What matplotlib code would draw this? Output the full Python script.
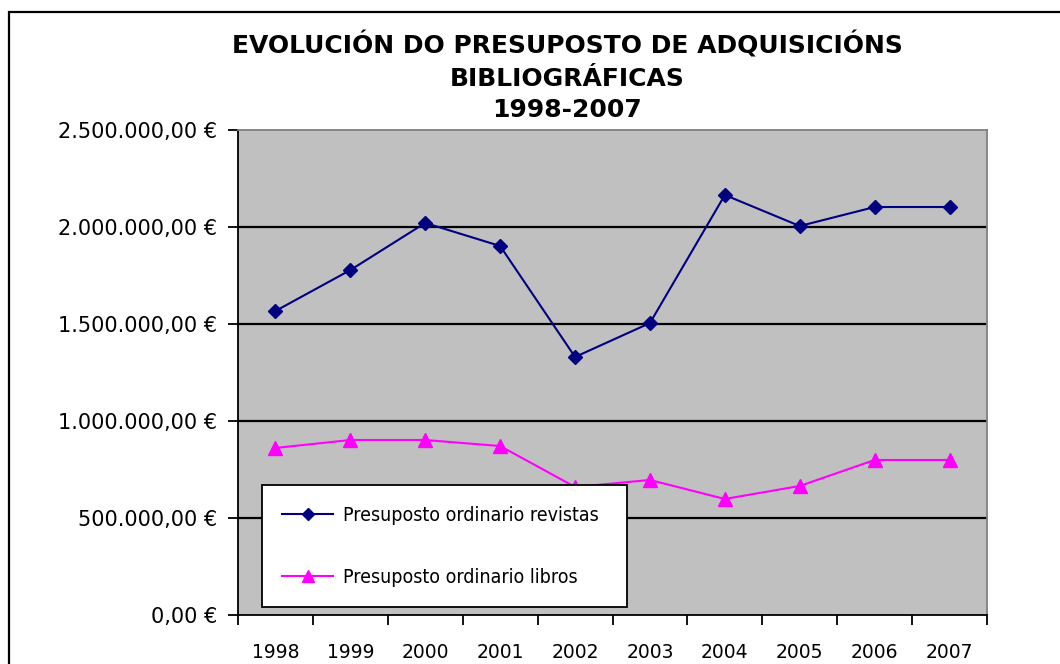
import matplotlib.pyplot as plt
from matplotlib.patches import Rectangle
from matplotlib.ticker import FuncFormatter, FixedLocator

years = ['1998', '1999', '2000', '2001', '2002', '2003', '2004', '2005', '2006', '2007']
revistas = [1567000, 1778000, 2021000, 1902000, 1330000, 1505000, 2165000, 2005000, 2103000, 2103000]
libros = [861000, 902000, 902000, 871000, 660000, 696000, 598000, 665000, 799000, 799000]

W, H = 1060, 664
fig = plt.figure(figsize=(W / 100, H / 100), dpi=100)
ax = fig.add_axes([238 / W, 1 - 615 / H, (987 - 238) / W, (615 - 130) / H])

# borde exterior do gráfico
fig.patches.append(Rectangle((9 / W, -0.1), 1.2, 1 - 12 / H + 0.1, transform=fig.transFigure,
                             fill=False, edgecolor='black', linewidth=1.6))

ax.set_facecolor('#C0C0C0')
x = list(range(len(years)))
ax.plot(x, revistas, color='#000080', lw=1.5, marker='D', ms=7.5,
        label='Presuposto ordinario revistas')
ax.plot(x, libros, color='#FF00FF', lw=1.5, marker='^', ms=10,
        label='Presuposto ordinario libros')

ax.set_xlim(-0.5, len(years) - 0.5)
ax.set_ylim(0, 2500000)
ax.set_yticks([0, 500000, 1000000, 1500000, 2000000, 2500000])


def euro(v, pos):
    s = f'{v:,.2f}'.replace(',', 'X').replace('.', ',').replace('X', '.')
    return s + ' €'


ax.yaxis.set_major_formatter(FuncFormatter(euro))
for v in [500000, 1000000, 1500000, 2000000]:
    ax.axhline(v, color='black', lw=1.6, zorder=1)

ax.set_xticks(x)
ax.set_xticklabels(years)
ax.xaxis.set_minor_locator(FixedLocator([i - 0.5 for i in range(len(years) + 1)]))
ax.tick_params(axis='x', which='major', length=0, pad=20, labelsize=13.5)
ax.tick_params(axis='x', which='minor', length=7, width=1.3, direction='out')
ax.tick_params(axis='y', length=7, width=1.3, direction='out', pad=8, labelsize=15)

for side in ['top', 'right']:
    ax.spines[side].set_color('#808080')
    ax.spines[side].set_linewidth(1.3)
for side in ['left', 'bottom']:
    ax.spines[side].set_color('black')
    ax.spines[side].set_linewidth(1.3)

leg = ax.legend(loc='lower left', bbox_to_anchor=(0.032, 0.0165, 0.487, 0.25), mode='expand',
                fontsize=14, labelspacing=2.2, borderpad=1.05, handlelength=2.6,
                handletextpad=0.5, borderaxespad=0, fancybox=False, framealpha=1,
                edgecolor='black', markerscale=0.8)
leg.get_frame().set_linewidth(1.3)
for t in leg.get_texts():
    t.set_fontstretch('condensed')

fig.text(567 / W, 1 - 77 / H, 'EVOLUCIÓN DO PRESUPOSTO DE ADQUISICIÓNS\nBIBLIOGRÁFICAS\n1998-2007',
         ha='center', va='center', fontsize=18, fontweight='bold', linespacing=1.4)

fig.savefig('out.png', dpi=100)
